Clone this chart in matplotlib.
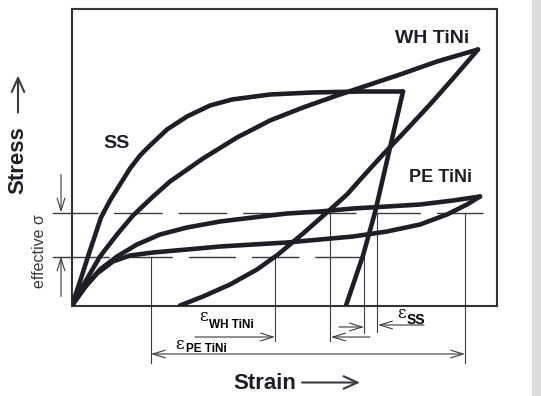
import matplotlib
matplotlib.use('Agg')
import matplotlib.pyplot as plt
from matplotlib.patches import FancyArrowPatch, Rectangle

plt.rcParams['font.family'] = ['Liberation Sans', 'DejaVu Sans']
plt.rcParams['lines.scale_dashes'] = False

# curves (arbitrary strain / stress units)
ss_load_strain = [0, 8, 16, 29, 38, 48, 58, 68, 78, 95, 115, 138, 160, 198, 240, 290, 331]
ss_load_stress = [0, 24, 49, 88, 105, 121, 137, 150, 160, 176, 189, 200, 206, 211, 213, 214, 214]
ss_unload_strain = [331, 303, 291, 274]
ss_unload_stress = [214, 93, 50, 0]

wh_load_strain = [0, 14, 28, 45, 61, 80, 98, 131, 165, 198, 231, 265, 298, 331, 365, 406]
wh_load_stress = [0, 25, 49, 71, 90, 108, 124, 147, 168, 185, 198, 210, 221, 232, 244, 256]
wh_unload_strain = [406, 381, 358, 331, 311, 291, 275, 256, 231, 206, 185, 158, 131, 108]
wh_unload_stress = [256, 227, 201, 172, 151, 129, 111, 94, 72, 51, 36, 21, 9, 0]

pe_load_strain = [0, 15, 28, 45, 65, 88, 115, 148, 181, 215, 248, 281, 315, 348, 381, 408]
pe_load_stress = [0, 21, 36, 49, 61, 71, 78, 84, 88, 92, 94, 97, 99, 101, 105, 109]
pe_unload_strain = [408, 395, 375, 348, 315, 281, 248, 215, 181, 148, 115, 81, 58, 41, 25, 11, 0]
pe_unload_stress = [109, 101, 91, 81, 74, 69, 66, 63, 61, 59, 56, 53, 50, 44, 32, 16, 0]

# effective stress band and dimension marks
sigma_upper = 93
sigma_lower = 49
upper_dash_end = 411
lower_dash_end = 290
eps_pe = (79, 393)      # strain span of PE TiNi
eps_wh = (203, 258)     # strain span of WH TiNi
eps_ss = (292, 305)     # strain span of SS

INK = '#1e1e27'
THIN = '#3a3a40'

fig = plt.figure(figsize=(5.41, 3.96), dpi=100)
fig.patch.set_facecolor('white')
fig.add_artist(Rectangle((532 / 541, 0), 9 / 541, 1, transform=fig.transFigure,
                         color='#dcdcdc', zorder=0))
ax = fig.add_axes([72 / 541, 90.5 / 396, 425 / 541, 296.5 / 396])
ax.set_xlim(0, 425)
ax.set_ylim(0, 296.5)
ax.set_xticks([])
ax.set_yticks([])
for s in ax.spines.values():
    s.set_linewidth(1.5)
    s.set_color('#333338')

kw = dict(color=INK, lw=3.3, solid_capstyle='round', solid_joinstyle='round', zorder=3)
ax.plot(ss_load_strain, ss_load_stress, **kw)
ax.plot(ss_unload_strain, ss_unload_stress, **kw)
ax.plot(wh_load_strain, wh_load_stress, **kw)
ax.plot(wh_unload_strain, wh_unload_stress, **kw)
ax.plot(pe_load_strain, pe_load_stress, **kw)
ax.plot(pe_unload_strain, pe_unload_stress, **kw)

# dashed effective-stress levels
ax.plot([0, upper_dash_end], [sigma_upper, sigma_upper], color=THIN, lw=1.0,
        linestyle=(16.6, (35, 11.5)), zorder=2)
ax.plot([0, lower_dash_end], [sigma_lower, sigma_lower], color=THIN, lw=1.0,
        linestyle=(7.2, (34, 11.5)), zorder=2)
for lev in (sigma_upper, sigma_lower):
    ax.plot([-19, 0], [lev, lev], color=THIN, lw=1.0, clip_on=False)


def arrow(x0, y0, x1, y1, lw=0.8, hl=0.9, hw=0.28):
    ax.add_patch(FancyArrowPatch((x0, y0), (x1, y1), arrowstyle=f'->,head_length={hl},head_width={hw}',
                                 mutation_scale=10, color=THIN, lw=lw, clip_on=False,
                                 shrinkA=0, shrinkB=0))


# effective sigma arrows on the left
arrow(-11, 131, -11, sigma_upper)
arrow(-11, 9, -11, sigma_lower)
ax.text(-32, 54, 'effective σ', rotation=90, ha='center', va='center', fontsize=11.5,
        color=THIN, clip_on=False)

# extension lines below the plot
ext = [(eps_pe[0], sigma_lower, -57.5), (eps_wh[0], sigma_lower, -35.5),
       (eps_wh[1], sigma_upper, -35.5), (eps_ss[0], sigma_lower, -27.5),
       (eps_ss[1], sigma_upper, -26.5), (eps_pe[1], sigma_upper, -57.5)]
for x, ytop, ybot in ext:
    ax.plot([x, x], [ytop, ybot], color=THIN, lw=0.8, clip_on=False, zorder=1)

arrow(eps_wh[0] - 80, -31.5, eps_wh[0], -31.5)
arrow(eps_wh[1] + 40, -31.5, eps_wh[1] + 1, -31.5)
ax.add_patch(FancyArrowPatch((eps_pe[0], -48.5), (eps_pe[1], -48.5),
                             arrowstyle='<->,head_length=0.9,head_width=0.28', mutation_scale=10,
                             color=THIN, lw=0.8, clip_on=False, shrinkA=0, shrinkB=0))
arrow(eps_ss[0] - 25, -21.5, eps_ss[0], -21.5)
arrow(eps_ss[1] + 47, -19.5, eps_ss[1] + 1, -19.5)

# strain labels
ax.text(132, -11, 'ε', fontsize=12, family='DejaVu Serif', ha='center', va='center', clip_on=False)
ax.text(137, -19, 'WH TiNi', fontsize=8.5, weight='bold', ha='left', va='center', clip_on=False)
ax.text(108, -39, 'ε', fontsize=12, family='DejaVu Serif', ha='center', va='center', clip_on=False)
ax.text(114, -43, 'PE TiNi', fontsize=8.5, weight='bold', ha='left', va='center', clip_on=False)
ax.text(330, -8, 'ε', fontsize=12, family='DejaVu Serif', ha='center', va='center', clip_on=False)
ax.text(335, -14, 'SS', fontsize=10, weight='bold', ha='left', va='center', clip_on=False)

# curve labels
ax.text(45, 162, 'SS', fontsize=14, weight='bold', ha='center', va='center', color=INK)
ax.text(360, 267, 'WH TiNi', fontsize=14, weight='bold', ha='center', va='center', color=INK)
ax.text(369, 128, 'PE TiNi', fontsize=13, weight='bold', ha='center', va='center', color=INK)

# axis titles
ax.text(-54, 145, 'Stress', rotation=90, fontsize=16, weight='bold', ha='center', va='center',
        color=INK, clip_on=False)
arrow(-54, 193, -54, 230, lw=1.5, hl=1.0, hw=0.45)
ax.text(193, -78, 'Strain', fontsize=16, weight='bold', ha='center', va='center',
        color=INK, clip_on=False)
arrow(230, -77, 288, -77, lw=1.5, hl=1.0, hw=0.45)

fig.savefig('out.png', dpi=100)
